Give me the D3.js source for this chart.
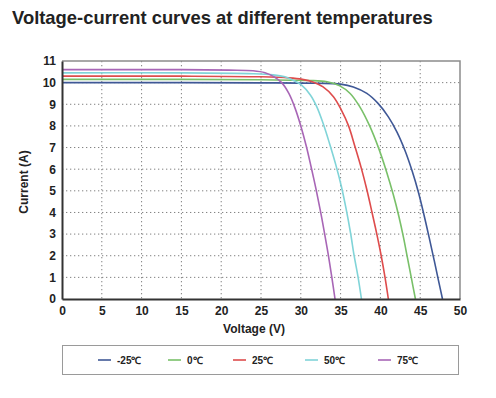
<!DOCTYPE html>
<html>
<head>
<meta charset="utf-8">
<script src="https://cdn.jsdelivr.net/npm/d3@7"></script>
<style>
body { margin: 0; background: #fff; }
text { font-family: Arial, "Liberation Sans", sans-serif; font-weight: bold; fill: #222; }
</style>
</head>
<body>
<script>
// data: [voltage, current]
var tempLabels = ["-25\u2103", "0\u2103", "25\u2103", "50\u2103", "75\u2103"];
var tempColors = ["#3f5896", "#79c069", "#de4c4c", "#80d4d8", "#a866b6"];

var curveM25 = [[0,10.0],[15,10.0],[25,9.99],[32,9.97],[35,9.93],[36.6,9.8],[38.3,9.5],[39.7,9.04],[41.0,8.42],[42.1,7.7],[43.1,6.85],[44.0,5.9],[44.8,4.9],[45.5,3.85],[46.15,2.8],[46.75,1.8],[47.3,0.85],[47.8,0]];
var curve0 = [[0,10.15],[15,10.15],[25,10.13],[31,10.1],[33.3,10.04],[34.9,9.85],[36.2,9.5],[37.4,8.89],[38.65,8.0],[39.8,6.95],[40.8,5.85],[41.6,4.85],[42.3,3.85],[42.9,2.85],[43.4,1.9],[43.9,0.95],[44.4,0]];
var curve25 = [[0,10.3],[15,10.3],[25,10.27],[28.5,10.22],[30.2,10.15],[31.6,10.02],[32.8,9.8],[34.1,9.35],[35.1,8.73],[36.0,8.0],[36.8,7.05],[37.6,6.05],[38.3,5.05],[38.95,4.0],[39.55,3.0],[40.1,2.0],[40.58,1.0],[41.0,0]];
var curve50 = [[0,10.45],[15,10.45],[24,10.41],[26.5,10.36],[28,10.27],[29.1,10.1],[30.1,9.88],[31.2,9.43],[32.0,8.89],[32.8,8.12],[33.6,7.2],[34.4,6.2],[35.1,5.2],[35.7,4.15],[36.25,3.05],[36.7,2.0],[37.2,1.0],[37.62,0]];
var curve75 = [[0,10.6],[15,10.6],[21,10.58],[24,10.55],[25.5,10.46],[26.6,10.28],[27.6,10.0],[28.5,9.5],[29.3,8.8],[30.0,8.0],[30.7,7.05],[31.3,6.1],[31.9,5.1],[32.45,4.1],[32.95,3.1],[33.45,2.05],[33.9,1.0],[34.3,0]];
var curves = [curveM25, curve0, curve25, curve50, curve75];

var xTicks = [0,5,10,15,20,25,30,35,40,45,50];
var yTicks = [0,1,2,3,4,5,6,7,8,9,10,11];

//размеры
var width = 496, height = 398;
var plotLeft = 62, plotRight = 460, plotTop = 61, plotBottom = 299;

var svg = d3.select("body").append("svg")
    .attr("width", width)
    .attr("height", height)
    .attr("viewBox", "0 0 "+width+" "+height);

var x = d3.scaleLinear().domain([0, 50]).range([plotLeft, plotRight]);
var y = d3.scaleLinear().domain([0, 11]).range([plotBottom, plotTop]);

svg.append("text")
    .attr("x", 12)
    .attr("y", 24)
    .style("font-size", "18.4px")
    .text("Voltage-current curves at different temperatures");

//сетка
svg.append("g").selectAll("line")
    .data(xTicks.slice(1, -1))
    .enter().append("line")
    .attr("x1", function(d){return x(d);})
    .attr("x2", function(d){return x(d);})
    .attr("y1", plotTop)
    .attr("y2", plotBottom)
    .attr("stroke", "#808080")
    .attr("stroke-width", 1)
    .attr("stroke-dasharray", "1.3,2.7");

svg.append("g").selectAll("line")
    .data(yTicks.slice(1, -1))
    .enter().append("line")
    .attr("x1", plotLeft)
    .attr("x2", plotRight)
    .attr("y1", function(d){return y(d);})
    .attr("y2", function(d){return y(d);})
    .attr("stroke", "#808080")
    .attr("stroke-width", 1)
    .attr("stroke-dasharray", "1.3,2.7");

//рамка
svg.append("path")
    .attr("d", "M"+plotLeft+" "+plotTop+" L"+plotRight+" "+plotTop+" L"+plotRight+" "+plotBottom)
    .attr("fill", "none")
    .attr("stroke", "#8c8c8c")
    .attr("stroke-width", 1.5);

//кривые
var line = d3.line()
    .x(function(d){return x(d[0]);})
    .y(function(d){return y(d[1]);})
    .curve(d3.curveCatmullRom.alpha(0.5));

svg.append("g").selectAll("path")
    .data(curves)
    .enter().append("path")
    .attr("d", line)
    .attr("fill", "none")
    .attr("stroke", function(d, i){return tempColors[i];})
    .attr("stroke-width", 1.6);

//оси
var xAxis = svg.append("g")
    .attr("transform", "translate(0,"+plotBottom+")")
    .call(d3.axisBottom(x).tickValues(xTicks).tickSize(0).tickPadding(7));
var yAxis = svg.append("g")
    .attr("transform", "translate("+plotLeft+",0)")
    .call(d3.axisLeft(y).tickValues(yTicks).tickSize(0).tickPadding(6));

[xAxis, yAxis].forEach(function(a) {
    a.select(".domain").attr("stroke", "#333").attr("stroke-width", 2);
    a.selectAll("text")
        .style("font-size", "12px")
        .style("font-family", "Arial, 'Liberation Sans', sans-serif")
        .style("font-weight", "bold")
        .attr("fill", "#222");
});

svg.append("text")
    .attr("x", 254)
    .attr("y", 333)
    .attr("text-anchor", "middle")
    .style("font-size", "12px")
    .text("Voltage (V)");

svg.append("text")
    .attr("transform", "translate(28,182) rotate(-90)")
    .attr("text-anchor", "middle")
    .style("font-size", "12px")
    .text("Current (A)");

//легенда
svg.append("rect")
    .attr("x", 62.5)
    .attr("y", 345.5)
    .attr("width", 396)
    .attr("height", 29)
    .attr("fill", "#fff")
    .attr("stroke", "#9a9a9a")
    .attr("stroke-width", 1);

var legendX = [98, 168, 233, 305, 378];
var legend = svg.append("g").selectAll("g")
    .data(tempLabels)
    .enter().append("g")
    .attr("transform", function(d, i){return "translate("+legendX[i]+",360)";});

legend.append("line")
    .attr("x1", 0)
    .attr("x2", 13)
    .attr("stroke", function(d, i){return tempColors[i];})
    .attr("stroke-width", 1.6);

legend.append("text")
    .attr("x", 19)
    .attr("y", 4)
    .style("font-size", "10px")
    .text(function(d){return d;});
</script>
</body>
</html>
